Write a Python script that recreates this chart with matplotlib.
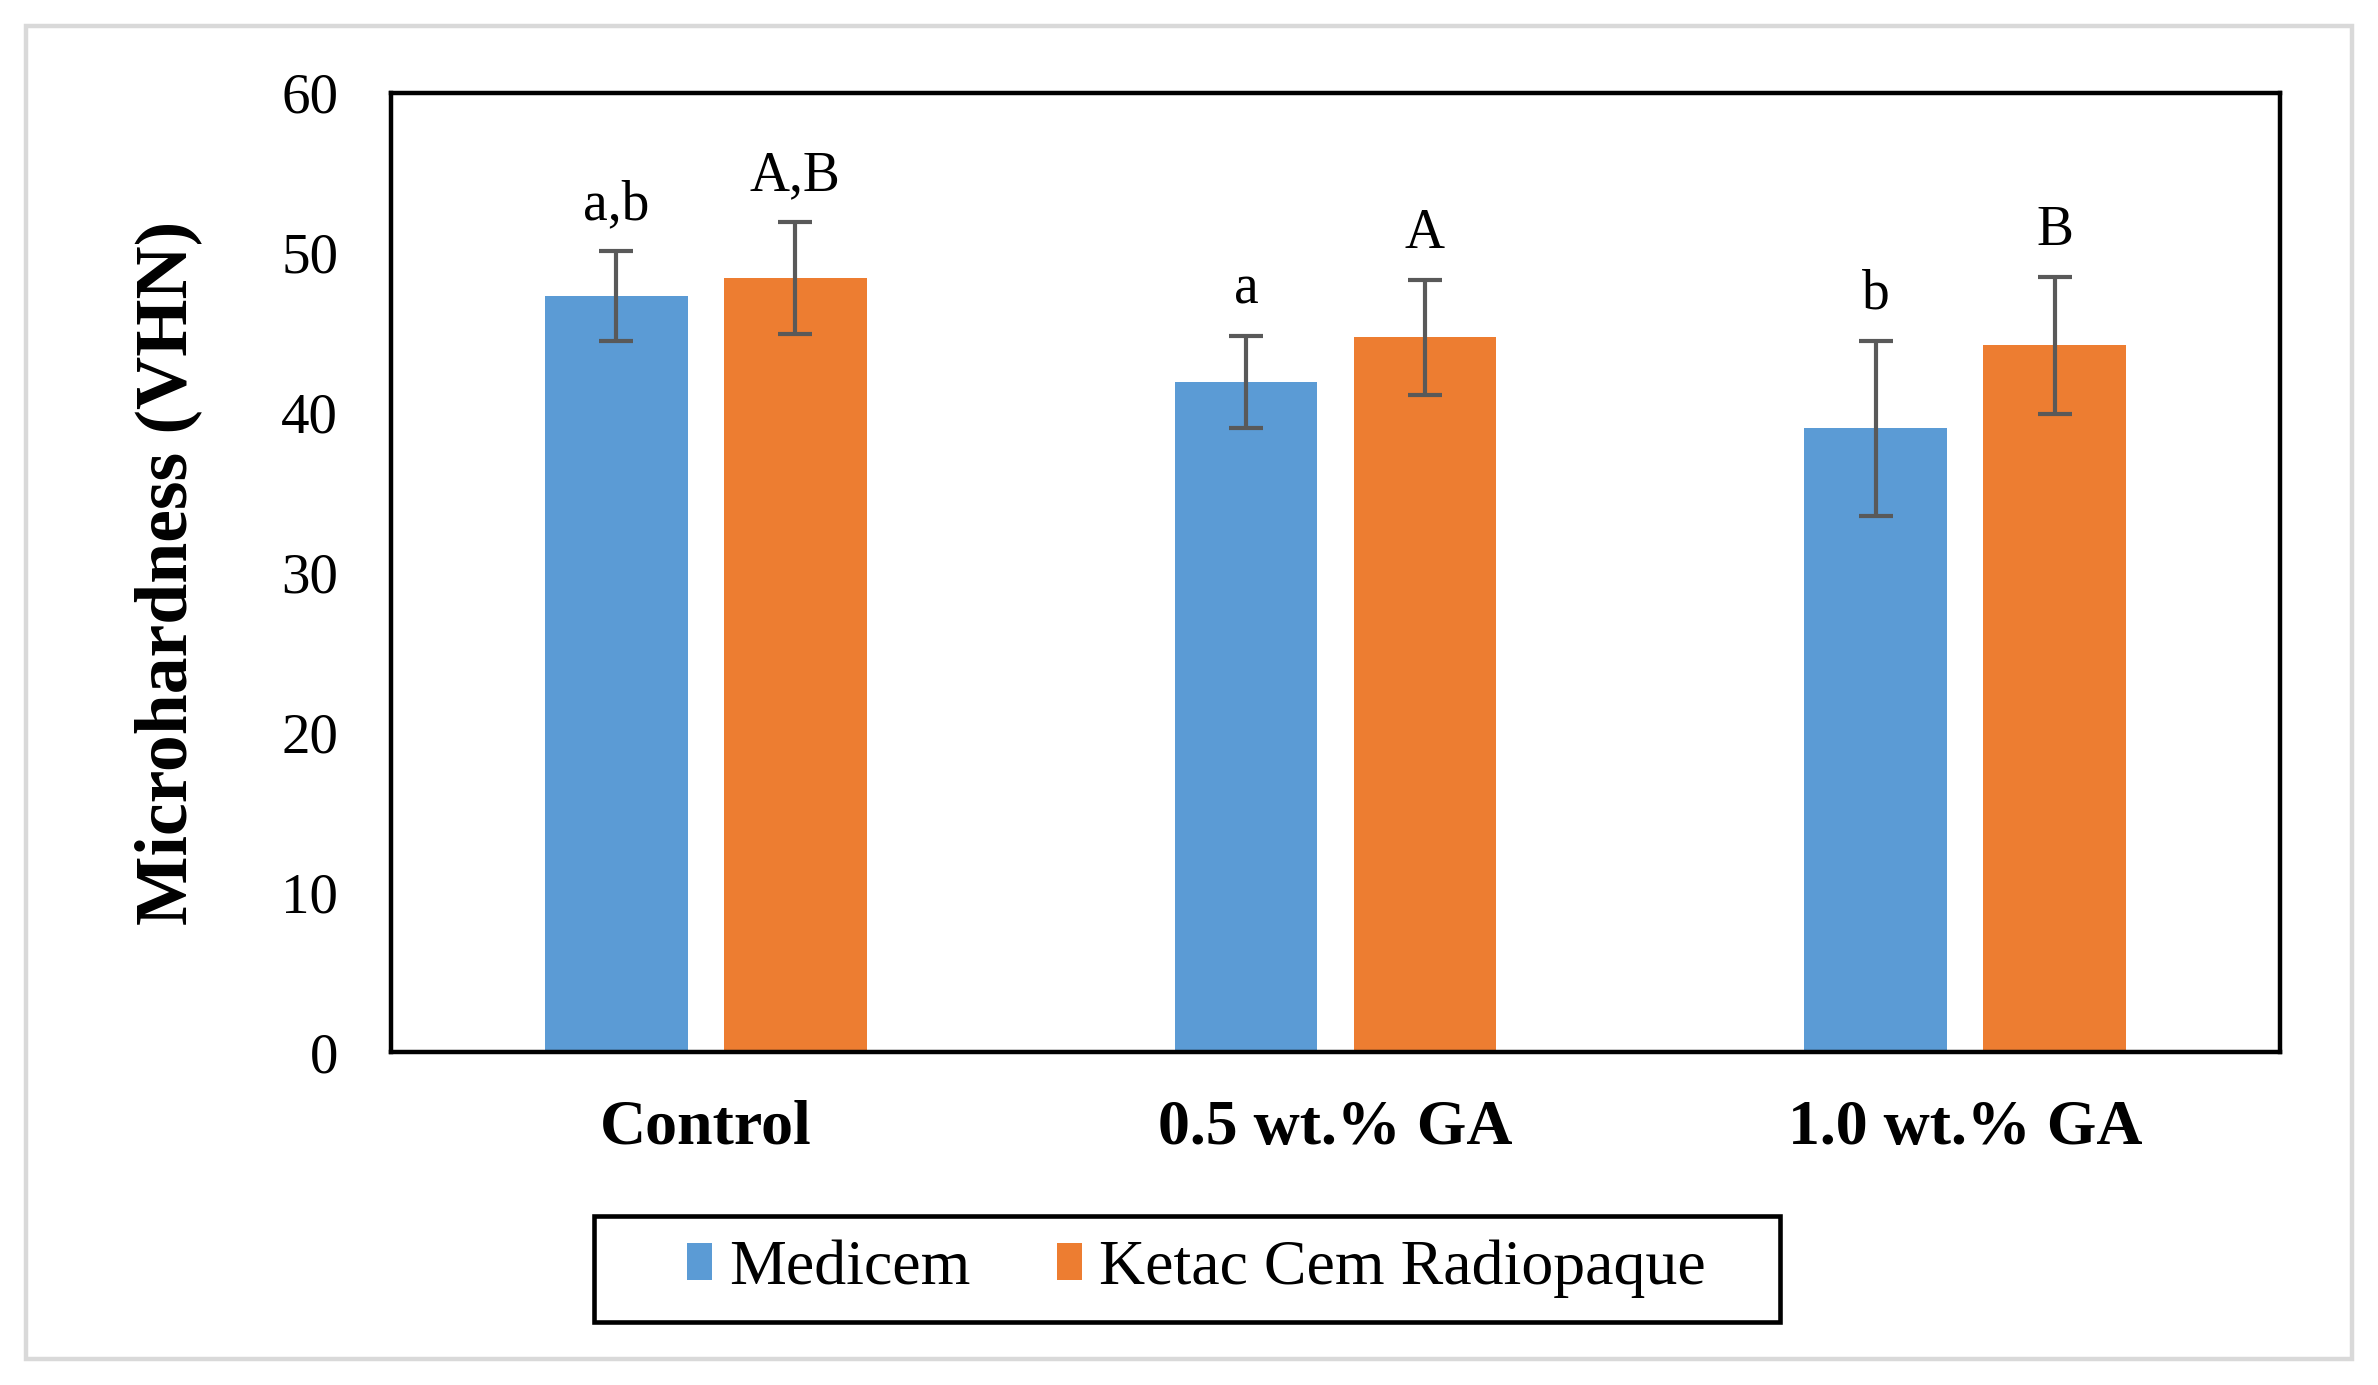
import numpy as np
import matplotlib
matplotlib.use('Agg')
import matplotlib.pyplot as plt
from matplotlib.patches import Rectangle, Patch

plt.rcParams['font.family'] = ['Liberation Serif', 'DejaVu Serif']

groups = ['Control', '0.5 wt.% GA', '1.0 wt.% GA']
series = ['Medicem', 'Ketac Cem Radiopaque']
medicem = [47.3, 41.9, 39.0]
medicem_sd = [2.8, 2.9, 5.5]
ketac = [48.4, 44.7, 44.2]
ketac_sd = [3.5, 3.6, 4.3]
medicem_letters = ['a,b', 'a', 'b']
ketac_letters = ['A,B', 'A', 'B']

blue = '#5B9BD5'
orange = '#ED7D31'
err_col = '#595959'

fig = plt.figure(figsize=(23.78, 13.85), dpi=100)
ax = fig.add_axes([0.1644, 0.2401, 0.7944, 0.6931])

x = np.arange(len(groups))
w = 0.2265
off = 0.142
ekw = dict(ecolor=err_col, elinewidth=3.0, capsize=12, capthick=3.0)
ax.bar(x - off, medicem, w, color=blue, yerr=medicem_sd, error_kw=ekw, zorder=2)
ax.bar(x + off, ketac, w, color=orange, yerr=ketac_sd, error_kw=ekw, zorder=2)

for i in range(len(groups)):
    ax.annotate(medicem_letters[i], (x[i] - off, medicem[i] + medicem_sd[i]),
                xytext=(0, 23), textcoords='offset points', ha='center', va='baseline', fontsize=40)
    ax.annotate(ketac_letters[i], (x[i] + off, ketac[i] + ketac_sd[i]),
                xytext=(0, 23), textcoords='offset points', ha='center', va='baseline', fontsize=40)

ax.set_xlim(-0.5, 2.5)
ax.set_ylim(0, 60)
ax.set_yticks(range(0, 61, 10))
ax.set_xticks(x)
ax.set_xticklabels(groups, fontsize=46, fontweight='bold')
ax.tick_params(axis='y', labelsize=41, length=0, pad=38)
ax.tick_params(axis='x', length=0, pad=34)
for s in ax.spines.values():
    s.set_linewidth(3.2)
    s.set_color('black')
ax.set_ylabel('Microhardness (VHN)', fontsize=53, fontweight='bold')
ax.yaxis.set_label_coords(-0.100, 0.5)

# legend box
fig.patches.append(Rectangle((0.2498, 0.0455), 0.4987, 0.0765, transform=fig.transFigure,
                             fill=False, edgecolor='black', linewidth=3.3))
handles = [Patch(facecolor=blue), Patch(facecolor=orange)]
fig.legend(handles, series, loc='center', bbox_to_anchor=(0.503, 0.0837), ncol=2,
           frameon=False, fontsize=46, handlelength=0.4, handleheight=0.52,
           handletextpad=0.26, columnspacing=1.35)

# outer border
fig.patches.append(Rectangle((0.0109, 0.0188), 0.9781, 0.9622, transform=fig.transFigure,
                             fill=False, edgecolor='#D9D9D9', linewidth=3.2))

fig.savefig('out.png', dpi=100)
